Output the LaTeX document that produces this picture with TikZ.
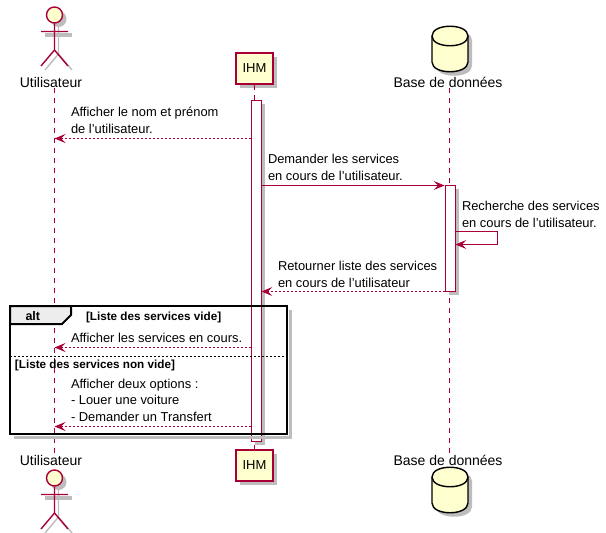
\documentclass[tikz,border=0pt]{standalone}
\usepackage{fontspec}
\setmainfont{Liberation Sans}
\usetikzlibrary{arrows.meta,shadows,positioning}

\definecolor{umlred}{HTML}{A80036}
\definecolor{umlfill}{HTML}{FEFECE}
\definecolor{umlshadow}{HTML}{BDBDBD}

\newcommand{\dbbody}{(432,36) .. controls (432,23) and (468,23) .. (468,36) -- (468,62) .. controls (468,75) and (432,75) .. (432,62) -- cycle}

\tikzset{
	txt/.style={inner sep=0pt,outer sep=0pt,anchor=base west,align=left,font=\fontsize{12.9}{16.5}\selectfont},
	boldtxt/.style={inner sep=0pt,outer sep=0pt,anchor=base west,font=\fontsize{11.7}{13}\selectfont\bfseries},
	actorlabel/.style={inner sep=1pt,outer sep=0pt,font=\fontsize{14}{16}\selectfont},
	lifeline/.style={umlred,line width=.9pt,dash pattern=on 5pt off 5pt},
	msg/.style={umlred,line width=.9pt,-{Stealth[length=11pt,width=9pt,inset=4.5pt]}},
	reply/.style={msg,dash pattern=on 2pt off 2pt},
	partbox/.style={draw=umlred,fill=umlfill,line width=1.4pt,minimum width=37pt,minimum height=31pt,inner sep=0pt,font=\fontsize{13}{15}\selectfont,drop shadow={shadow xshift=4pt,shadow yshift=-4pt,fill=umlshadow,opacity=1}},
	actbar/.style={draw=umlred,fill=white,line width=.9pt,minimum width=10pt,inner sep=0pt,drop shadow={shadow xshift=3.5pt,shadow yshift=-3.5pt,fill=umlshadow,opacity=1}},
	acthead/.style={circle,draw=umlred,fill=umlfill,line width=1.4pt,minimum size=16pt,inner sep=0pt,drop shadow={shadow xshift=4pt,shadow yshift=-4pt,fill=umlshadow,opacity=1}},
	frameline/.style={draw=black,line width=2pt}
}

\begin{document}
\begin{tikzpicture}[x=1pt,y=-1pt]
	\useasboundingbox (0,0) rectangle (606,533);

	% participants, top row then bottom row
	\foreach \pos/\dy in {t/0,b/463}{
		\begin{scope}[yshift=-\dy pt]
			\draw[umlshadow,line width=4pt] (45,35) -- (72,35);
			\draw[umlshadow,line width=1.4pt] (58.5,27) -- (58.5,54) -- (45,70) (58.5,54) -- (72,70);
			\node[acthead] (head\pos) at (54.5,15) {};
			\coordinate (hip\pos) at (54.5,50);
			\coordinate (armL\pos) at (41,31.5);
			\coordinate (armR\pos) at (68,31.5);
			\coordinate (footL\pos) at (41,66);
			\coordinate (footR\pos) at (68,66);
			\draw[umlred,line width=1.4pt] (head\pos) -- (hip\pos) -- (footL\pos) (hip\pos) -- (footR\pos) (armL\pos) -- (armR\pos);
		\end{scope}
	}
	\foreach \pos/\dy in {T/0,B/441}{
		\begin{scope}[yshift=-\dy pt]
			\fill[umlshadow,xshift=4pt,yshift=-4pt] \dbbody;
			\draw[black,line width=1.4pt,fill=umlfill] \dbbody;
			\draw[black,line width=1.4pt] (432,36) .. controls (432,49) and (468,49) .. (468,36);
			\coordinate (db\pos) at (449.5,49);
		\end{scope}
	}
	\node[actorlabel] (userT) at (51,82) {Utilisateur};
	\node[actorlabel] (userB) at (51,460) {Utilisateur};
	\node[partbox] (ihmT) at (254.5,68.5) {IHM};
	\node[partbox] (ihmB) at (254.5,465.5) {IHM};
	\node[actorlabel] (dbLabelT) at (448,82) {Base de données};
	\node[actorlabel] (dbLabelB) at (448,460) {Base de données};

	% lifelines
	\draw[lifeline] (userT.south -| headt) -- (userB.north -| headt);
	\draw[lifeline] (ihmT) -- (ihmB);
	\draw[lifeline] (dbLabelT.south -| dbT) -- (dbLabelB.north -| dbT);

	% activations
	\node[actbar,minimum height=341pt] (barIHM) at (256,270.5) {};
	\node[actbar,minimum height=106pt] (barDB) at (450,238) {};

	% messages
	\coordinate (m1) at (0,138.5);
	\coordinate (m2) at (0,185.5);
	\coordinate (m3) at (497.5,231.5);
	\coordinate (m4) at (497.5,244.5);
	\coordinate (m5) at (0,291.5);
	\coordinate (m6) at (0,347.5);
	\coordinate (m7) at (0,426.5);

	\draw[reply] (barIHM.west |- m1) -- (headt |- m1);
	\draw[msg] (barIHM.east |- m2) -- (barDB.north west |- m2);
	\draw[umlred,line width=.9pt] (barDB.east |- m3) -- (m3) -- (m4);
	\draw[msg] (m4) -- (barDB.east |- m4);
	\draw[reply] (barDB.west |- m5) -- (barIHM.east |- m5);

	\node[txt] (t1) at (71,133) {Afficher le nom et prénom\\de l'utilisateur.};
	\node[txt] (t2) at (268,180) {Demander les services\\en cours de l'utilisateur.};
	\node[txt] (t3) at (462,227) {Recherche des services\\en cours de l'utilisateur.};
	\node[txt] (t4) at (278,287) {Retourner liste des services\\en cours de l'utilisateur};

	% alt frame
	\draw[umlshadow,line width=3pt] (290.5,310) -- (290.5,437.5) -- (14,437.5);
	\draw[frameline,fill=black!7] (10,306) -- (71,306) -- (71,315) -- (62,324) -- (10,324) -- cycle;
	\draw[frameline] (10,306) rectangle (287,434);
	\draw[line width=.9pt,dash pattern=on 2pt off 2pt] (10,356) -- (287,356);
	\node[boldtxt,font=\fontsize{12.5}{14}\selectfont\bfseries] (altLabel) at (25.5,320.5) {alt};
	\node[boldtxt] (cond1) at (86,320) {[Liste des services vide]};
	\node[boldtxt] (cond2) at (15,368) {[Liste des services non vide]};

	\draw[reply] (barIHM.west |- m6) -- (headt |- m6);
	\draw[reply] (barIHM.west |- m7) -- (headt |- m7);
	\node[txt] (t5) at (71,342) {Afficher les services en cours.};
	\node[txt] (t6) at (71,421) {Afficher deux options :\\- Louer une voiture\\- Demander un Transfert};
\end{tikzpicture}
\end{document}
